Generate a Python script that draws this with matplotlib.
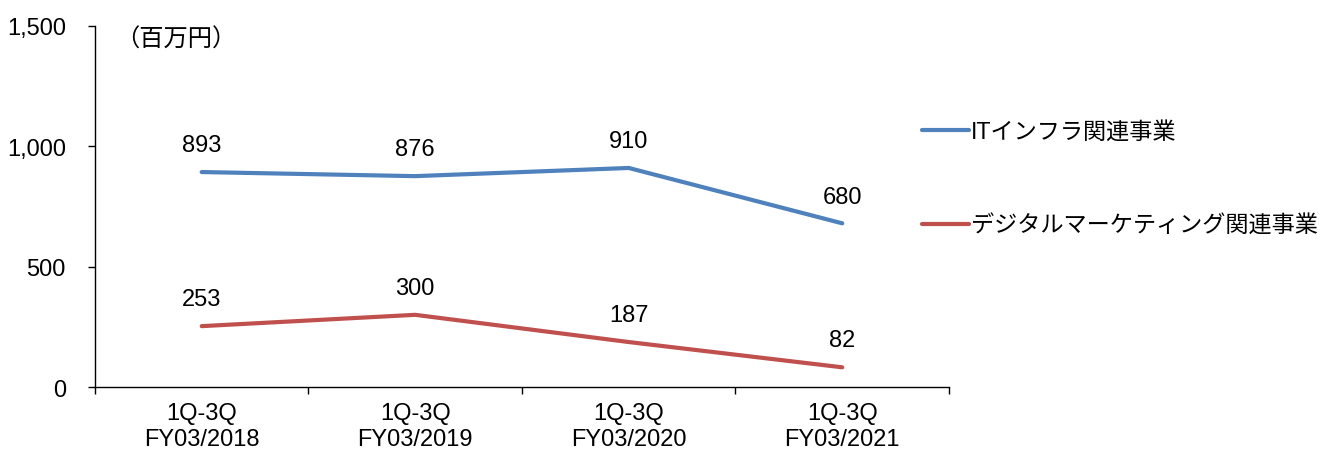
import matplotlib
matplotlib.use("Agg")
import matplotlib.pyplot as plt

plt.rcParams['font.family'] = ['Liberation Sans', 'Noto Sans CJK JP', 'DejaVu Sans']

periods = ['1Q-3Q\nFY03/2018', '1Q-3Q\nFY03/2019', '1Q-3Q\nFY03/2020', '1Q-3Q\nFY03/2021']
it_infra = [893, 876, 910, 680]
digital_mkt = [253, 300, 187, 82]
series_names = ['ITインフラ関連事業', 'デジタルマーケティング関連事業']
y_ticks = [0, 500, 1000, 1500]

fig = plt.figure(figsize=(13.26, 4.56), dpi=100)
ax = fig.add_axes([0.0716, 0.149, 0.6441, 0.792])

x = list(range(len(periods)))
ax.plot(x, it_infra, color='#4F81BD', lw=3, label=series_names[0], solid_capstyle='round')
ax.plot(x, digital_mkt, color='#C0504D', lw=3, label=series_names[1], solid_capstyle='round')

for series in (it_infra, digital_mkt):
    for xi, v in zip(x, series):
        ax.annotate(f'{v:,}', (xi, v), xytext=(0, 15), textcoords='offset points',
                    ha='center', va='baseline', fontsize=17)

ax.set_xlim(-0.5, len(periods) - 0.5)
ax.set_ylim(0, 1500)
ax.set_yticks(y_ticks)
ax.set_yticklabels([f'{t:,}' for t in y_ticks], fontsize=17)
ax.set_xticks(x)
ax.set_xticklabels(periods, fontsize=17, linespacing=1.2)
ax.set_xticks([i - 0.5 for i in range(len(periods) + 1)], minor=True)
ax.tick_params(axis='x', which='major', length=0, pad=11)
ax.tick_params(axis='x', which='minor', length=5, width=1, direction='out')
ax.tick_params(axis='y', length=5, width=1, direction='out', pad=16)

for s in ['top', 'right']:
    ax.spines[s].set_visible(False)
for s in ['left', 'bottom']:
    ax.spines[s].set_linewidth(1)

ax.text(0.024, 1.0, '（百万円）', transform=ax.transAxes, fontsize=17.5,
        ha='left', va='top', family=['Noto Sans CJK JP'])

leg = ax.legend(loc='upper left', bbox_to_anchor=(0.958, 0.765), frameon=False,
                fontsize=16.7, handlelength=2.0, handletextpad=0.1, labelspacing=3.05,
                borderaxespad=0)

fig.savefig('out.png', dpi=100)
